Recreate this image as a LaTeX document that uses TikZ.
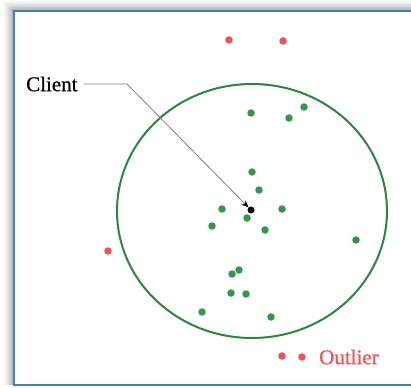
\documentclass[tikz,border=0pt]{standalone}
\usepackage{fontspec}
\setmainfont{Liberation Serif}
\newfontfamily\lblfont{Liberation Serif}[FakeBold=0.8]
\usetikzlibrary{arrows.meta}
\definecolor{dotgreen}{RGB}{52,150,78}
\definecolor{ringgreen}{RGB}{44,135,62}
\definecolor{outred}{RGB}{245,80,85}
\definecolor{framebl}{RGB}{70,125,195}
\tikzset{
  gdot/.style={circle,fill=dotgreen,inner sep=0pt,minimum size=7.5pt},
  rdot/.style={circle,fill=outred,inner sep=0pt,minimum size=7.5pt},
  lbl/.style={inner sep=0pt,font=\lblfont\fontsize{21}{24}\selectfont},
}
\begin{document}
\begin{tikzpicture}[x=1pt,y=-1pt]
\useasboundingbox (0,0) rectangle (411,387);
\fill[white] (0,0) rectangle (411,387);
% shadow
\foreach \o/\op in {10/0.04,8/0.05,6/0.06,4/0.08,2/0.1}{
  \fill[black,opacity=\op] (14-\o,11-\o) rectangle (411,385);
}
\fill[white] (14,11) rectangle (411,385);
\draw[framebl,line width=2pt] (411,11) -- (14,11) -- (14,385) -- (411,385);
% ring
\draw[ringgreen,line width=2pt] (252,211) ellipse [x radius=135, y radius=127];
% green dots
\foreach \x/\y [count=\i] in {251/113,289/118,304/107,252/172,259/190,222/209,282/209,247/218,212/226,265/230,356/240,232/274,239/270,231/293,246/294,202/312,271/317}{
  \node[gdot] (g\i) at (\x,\y) {};
}
% red outliers
\node[rdot] (r1) at (229,40) {};
\node[rdot] (r2) at (283,41) {};
\node[rdot] (r3) at (108,251) {};
\node[rdot] (r4) at (282,356) {};
\node[rdot] (r5) at (302,357) {};
% client
\node[circle,fill=black,inner sep=0pt,minimum size=7pt] (client) at (251,210) {};
\node[lbl,anchor=west,text=black] (clientlbl) at (26,84) {Client};
\coordinate (bend) at (127,84);
\draw[gray,line width=0.8pt,-{Stealth[length=7pt,width=6pt,black]}] (clientlbl.east) ++(6,0) -- (bend) -- (client);
\node[lbl,anchor=west,text=outred] (outlbl) at (319,357) {Outlier};
\end{tikzpicture}
\end{document}
